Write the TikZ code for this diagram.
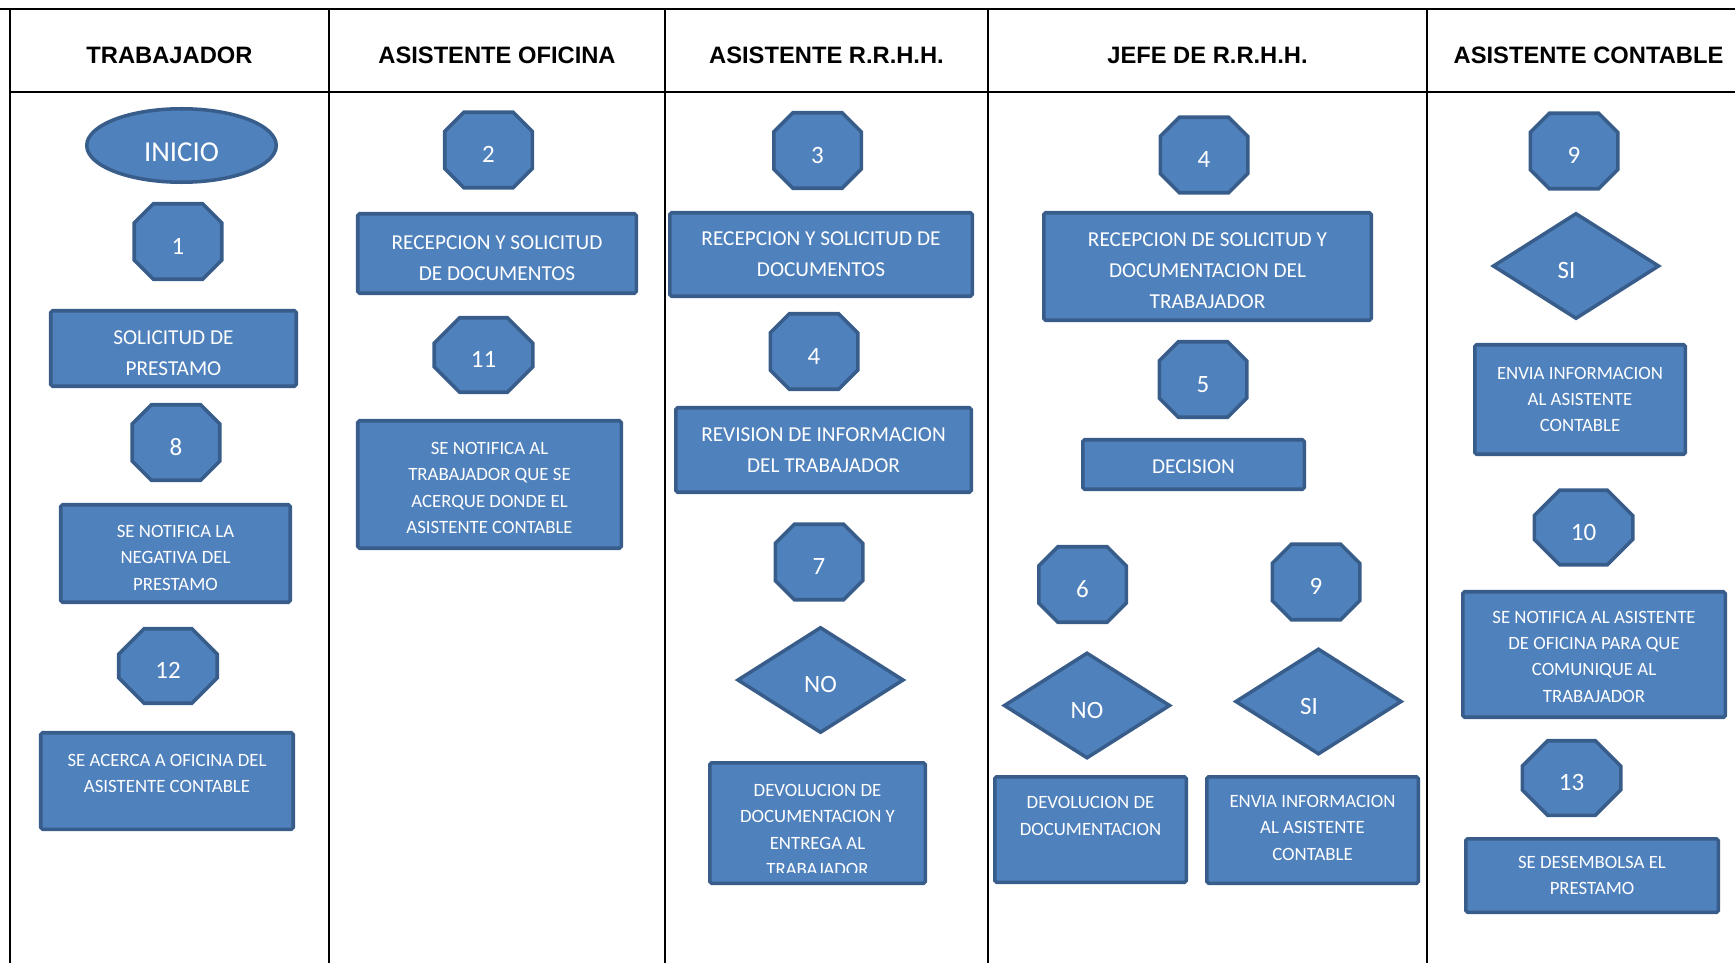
\documentclass[tikz,border=0pt]{standalone}
\usepackage{fontspec}
\setmainfont{Carlito}
\newfontfamily\arialfont{Liberation Sans}
\usepackage{tikz}
\usetikzlibrary{shapes}
\definecolor{azul}{HTML}{4F81BD}
\definecolor{bordeazul}{HTML}{385D8A}
% sube la primera linea para bajar el texto en la caja
\newcommand{\alto}[1]{\rule{0pt}{#1}}
\tikzset{
	linea/.style = {
		line width=1.2pt
	},
	titulo/.style = {
		font=\arialfont\fontsize{13.5pt}{16pt}\selectfont\bfseries
	},
	block/.style = {
		draw=bordeazul, 
		fill=azul, 
		rectangle, 
		line width=2pt, 
		align=center, 
		text=white,
		rounded corners=1pt,
		inner sep=1pt
	},
	grande/.style = {
		font=\fontsize{12.1pt}{17.6pt}\selectfont
	},
	chico/.style = {
		font=\fontsize{10.7pt}{15pt}\selectfont
	},
	texto/.style = {
		text=white, 
		align=center, 
		inner sep=0pt
	},
	paso/.style = {
		draw=bordeazul, 
		fill=azul, 
		chamfered rectangle, 
		chamfered rectangle xsep=0.44cm, 
		chamfered rectangle ysep=0.44cm,
		minimum width=1.75cm, 
		minimum height=1.51cm, 
		line width=2pt, 
		inner sep=0pt,
		text height=0.51cm,
		text depth=0pt,
		text=white, 
		font=\fontsize{14.2pt}{17pt}\selectfont
	},
	ancho/.style = {
		minimum width=1.97cm, 
		minimum height=1.49cm
	},
	decision/.style = {
		draw=bordeazul, 
		fill=azul, 
		diamond, 
		minimum width=3.33cm, 
		minimum height=2.12cm, 
		line width=2pt, 
		inner sep=0pt,
		text height=0.50cm,
		text depth=0pt,
		text=white, 
		font=\fontsize{14.2pt}{17pt}\selectfont
	},
	inicio/.style = {
		draw=bordeazul, 
		fill=azul, 
		ellipse, 
		minimum width=3.79cm, 
		minimum height=1.47cm, 
		line width=2pt, 
		inner sep=0pt,
		text height=0.63cm,
		text depth=0pt,
		text=white, 
		font=\fontsize{16.4pt}{19pt}\selectfont
	}
}

\begin{document}
\begin{tikzpicture}
		
		\useasboundingbox (0,0) rectangle (34.70,-19.26);
		
		% --- TABLA ---
		\draw[linea] (0,-0.18) -- (34.70,-0.18);
		\draw[linea] (0.20,-1.84) -- (34.70,-1.84);
		\foreach \x in {0.20,6.58,13.30,19.76,28.54}
		\draw[linea] (\x,-0.18) -- (\x,-19.26);
		
		% Encabezados de las columnas
		\node[titulo] (trabajador) at (3.39,-1.10) {TRABAJADOR};
		\node[titulo] (oficina) at (9.94,-1.10) {ASISTENTE OFICINA};
		\node[titulo] (rrhh) at (16.53,-1.10) {ASISTENTE R.R.H.H.};
		\node[titulo] (jefe) at (24.15,-1.10) {JEFE DE R.R.H.H.};
		\node[titulo] (contable) at (31.77,-1.10) {ASISTENTE CONTABLE};
		
		% --- TRABAJADOR ---
		\node[inicio] (inicio) at (3.63,-2.91) {INICIO};
		\node[paso] (p1) at (3.56,-4.83) {1};
		\node[block, grande, minimum width=4.91cm, minimum height=1.51cm] (solicitud) at (3.47,-6.97) {\alto{12.8pt}SOLICITUD DE\\PRESTAMO};
		\node[paso] (p8) at (3.52,-8.85) {8};
		\node[block, chico, minimum width=4.59cm, minimum height=1.95cm] (negativa) at (3.51,-11.07) {\alto{11.9pt}SE NOTIFICA LA\\NEGATIVA DEL\\PRESTAMO};
		\node[paso, ancho] (p12) at (3.36,-13.32) {12};
		% Texto arriba de la caja
		\node[block, minimum width=5.05cm, minimum height=1.93cm] (acerca) at (3.34,-15.62) {};
		\node[texto, chico] (acercatxt) at ([yshift=0.156cm]acerca.center) {SE ACERCA A OFICINA DEL\\ASISTENTE CONTABLE};
		
		% --- ASISTENTE OFICINA ---
		\node[paso] (p2) at (9.77,-3.00) {2};
		\node[block, grande, minimum width=5.57cm, minimum height=1.59cm] (recepcion1) at (9.94,-5.07) {\alto{12.8pt}RECEPCION Y SOLICITUD\\DE DOCUMENTOS};
		\node[paso, ancho] (p11) at (9.67,-7.10) {11};
		\node[block, chico, minimum width=5.27cm, minimum height=2.55cm] (notifica1) at (9.79,-9.69) {\alto{10.7pt}SE NOTIFICA AL\\TRABAJADOR QUE SE\\ACERQUE DONDE EL\\ASISTENTE CONTABLE};
		
		% --- ASISTENTE R.R.H.H. ---
		\node[paso] (p3) at (16.35,-3.01) {3};
		\node[block, grande, minimum width=6.05cm, minimum height=1.67cm] (recepcion2) at (16.42,-5.09) {RECEPCION Y SOLICITUD DE\\DOCUMENTOS};
		\node[paso] (p4) at (16.28,-7.03) {4};
		\node[block, grande, minimum width=5.91cm, minimum height=1.69cm] (revision) at (16.47,-9.00) {REVISION DE INFORMACION\\DEL TRABAJADOR};
		\node[paso] (p7) at (16.38,-11.24) {7};
		\node[decision] (no1) at (16.41,-13.60) {NO};
		% El texto no cabe: se corta abajo
		\node[block, minimum width=4.31cm, minimum height=2.41cm] (devolucion1) at (16.35,-16.46) {};
		\begin{scope}
			\clip ([yshift=0.26cm]devolucion1.south west) rectangle (devolucion1.north east);
			\node[texto, chico] (devolucion1txt) at ([yshift=-0.14cm]devolucion1.center) {DEVOLUCION DE\\DOCUMENTACION Y\\ENTREGA AL\\TRABAJADOR};
		\end{scope}
		
		% --- JEFE DE R.R.H.H. ---
		\node[paso] (p4b) at (24.08,-3.10) {4};
		\node[block, grande, minimum width=6.55cm, minimum height=2.15cm] (recepcion3) at (24.15,-5.33) {\alto{12.8pt}RECEPCION DE SOLICITUD Y\\DOCUMENTACION DEL\\TRABAJADOR};
		\node[paso] (p5) at (24.06,-7.59) {5};
		\node[block, grande, minimum width=4.43cm, minimum height=0.99cm] (decision) at (23.87,-9.29) {\alto{10.3pt}DECISION};
		\node[paso] (p6) at (21.65,-11.69) {6};
		\node[paso] (p9a) at (26.32,-11.64) {9};
		\node[decision] (no2) at (21.74,-14.11) {NO};
		\node[decision] (si1) at (26.37,-14.03) {SI\hspace*{0.38cm}};
		\node[block, minimum width=3.83cm, minimum height=2.11cm] (devolucion2) at (21.81,-16.59) {};
		\node[texto, chico] (devolucion2txt) at ([yshift=0.27cm]devolucion2.center) {DEVOLUCION DE\\DOCUMENTACION};
		\node[block, chico, text depth=0.09cm, minimum width=4.23cm, minimum height=2.13cm] (envia1) at (26.25,-16.60) {ENVIA INFORMACION\\AL ASISTENTE\\CONTABLE};
		
		% --- ASISTENTE CONTABLE ---
		\node[paso] (p9b) at (31.48,-3.02) {9};
		\node[decision] (si2) at (31.52,-5.32) {SI\hspace*{0.38cm}};
		\node[block, chico, minimum width=4.21cm, minimum height=2.19cm] (envia2) at (31.60,-7.99) {ENVIA INFORMACION\\AL ASISTENTE\\CONTABLE};
		\node[paso, ancho] (p10) at (31.67,-10.55) {10};
		\node[block, chico, minimum width=5.25cm, minimum height=2.51cm] (notifica2) at (31.88,-13.09) {\alto{9.4pt}SE NOTIFICA AL ASISTENTE\\DE OFICINA PARA QUE\\COMUNIQUE AL\\TRABAJADOR};
		\node[paso, ancho] (p13) at (31.43,-15.56) {13};
		\node[block, chico, minimum width=5.05cm, minimum height=1.47cm] (desembolso) at (31.84,-17.51) {SE DESEMBOLSA EL\\PRESTAMO};
		
	\end{tikzpicture}
\end{document}
